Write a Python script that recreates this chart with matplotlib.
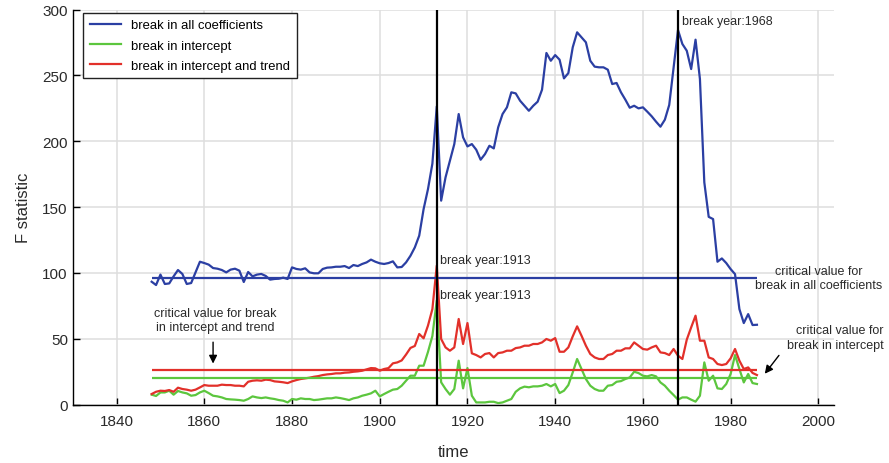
import matplotlib
matplotlib.use("Agg")
import matplotlib.pyplot as plt
import numpy as np

plt.rcParams['font.family'] = ['Liberation Sans', 'DejaVu Sans']

# Sample period
years = list(range(1848, 1987))

# F statistic: break in all coefficients
f_all = [
    93.3, 90.8, 98.7, 91.6, 92.0, 97.4, 102.2, 99.2, 91.6, 92.3,          # 1848-1857
    100.4, 108.5, 107.5, 106.3, 103.7, 103.2, 102.2, 100.4, 102.5, 103.2,  # 1858-1867
    101.7, 93.1, 100.7, 97.4, 98.7, 99.2, 97.7, 94.9, 95.4, 95.6,          # 1868-1877
    96.4, 95.4, 104.2, 103.0, 102.5, 103.5, 100.4, 99.7, 99.7, 103.0,      # 1878-1887
    104.0, 104.2, 104.7, 104.7, 105.2, 103.7, 106.0, 105.2, 106.8, 108.0,  # 1888-1897
    110.1, 108.5, 107.3, 106.8, 107.5, 108.8, 104.2, 104.5, 108.0, 113.0,  # 1898-1907
    119.4, 128.3, 148.5, 163.7, 183.0, 226.5, 154.9, 172.6, 185.3, 197.9,  # 1908-1917
    220.7, 203.0, 196.1, 197.9, 193.6, 186.0, 190.3, 196.6, 194.6, 210.6,  # 1918-1927
    220.7, 225.8, 237.2, 236.4, 230.8, 227.0, 223.2, 227.0, 230.1, 239.2,  # 1928-1937
    267.1, 261.2, 265.5, 262.0, 247.8, 251.8, 271.4, 282.8, 279.0, 275.2,  # 1938-1947
    261.2, 256.7, 256.2, 256.2, 254.4, 243.5, 244.3, 237.2, 231.6, 225.5,  # 1948-1957
    227.0, 225.0, 225.8, 222.5, 219.0, 214.9, 211.1, 216.4, 227.6, 256.2,  # 1958-1967
    284.5, 273.9, 268.8, 254.9, 277.2, 247.3, 168.8, 142.6, 140.9, 108.5,  # 1968-1977
    111.0, 107.5, 102.9, 99.1, 72.5, 61.9, 68.7, 60.4, 60.6,               # 1978-1986
]

# F statistic: break in intercept
f_int = [
    7.5, 6.5, 9.2, 9.2, 10.5, 7.5, 10.3, 9.2, 8.5, 6.7,                    # 1848-1857
    7.2, 9.2, 10.5, 8.7, 6.7, 6.2, 5.4, 4.2, 3.9, 3.7,                     # 1858-1867
    3.4, 2.9, 4.2, 6.2, 5.4, 4.9, 5.4, 4.7, 4.2, 3.4,                      # 1868-1877
    2.9, 1.6, 4.2, 3.7, 4.7, 4.2, 4.2, 3.4, 3.7, 4.2,                      # 1878-1887
    4.7, 4.7, 5.4, 4.9, 4.2, 3.4, 4.7, 5.4, 6.7, 7.5,                      # 1888-1897
    8.5, 10.5, 6.2, 8.0, 9.7, 11.3, 11.8, 14.3, 18.1, 21.9,                # 1898-1907
    21.9, 29.5, 29.5, 40.0, 52.0, 79.0, 16.9, 11.8, 7.5, 11.8,             # 1908-1917
    33.3, 12.3, 27.7, 6.7, 1.6, 1.6, 1.6, 2.1, 2.1, 1.1,                   # 1918-1927
    1.6, 2.9, 4.2, 9.7, 12.3, 13.6, 13.1, 13.8, 13.8, 14.3,                # 1928-1937
    15.6, 13.8, 15.6, 8.7, 10.5, 14.8, 24.4, 34.6, 27.0, 19.4,             # 1938-1947
    14.3, 11.8, 10.5, 10.5, 14.3, 14.8, 17.3, 17.8, 19.4, 20.6,            # 1948-1957
    24.9, 23.9, 21.9, 21.4, 22.4, 21.4, 16.8, 14.3, 10.5, 7.2,             # 1958-1967
    3.7, 5.4, 5.4, 3.7, 2.2, 6.7, 32.0, 18.1, 21.9, 12.3,                  # 1968-1977
    11.8, 15.6, 23.2, 37.6, 27.0, 16.8, 23.2, 16.3, 15.6,                  # 1978-1986
]

# F statistic: break in intercept and trend
f_int_trend = [
    8.0, 9.7, 10.5, 10.3, 11.0, 9.7, 12.8, 11.8, 11.3, 10.5,               # 1848-1857
    11.3, 13.0, 14.8, 14.3, 14.3, 14.3, 15.1, 14.8, 14.8, 14.3,            # 1858-1867
    14.3, 13.8, 17.3, 18.1, 18.4, 18.1, 18.9, 18.6, 17.6, 17.3,            # 1868-1877
    16.9, 16.3, 17.6, 18.6, 19.4, 19.9, 20.4, 21.1, 21.6, 22.4,            # 1878-1887
    22.9, 23.2, 23.7, 23.7, 24.2, 24.4, 24.9, 25.2, 25.7, 26.7,            # 1888-1897
    27.7, 27.5, 25.7, 27.0, 27.7, 31.3, 32.0, 33.5, 38.0, 43.0,            # 1898-1907
    44.5, 53.6, 50.3, 60.0, 72.5, 105.5, 49.8, 43.4, 40.9, 43.4,           # 1908-1917
    65.0, 46.0, 61.9, 38.9, 37.6, 35.8, 38.4, 39.1, 35.8, 39.1,            # 1918-1927
    39.6, 40.9, 40.9, 42.9, 43.4, 44.7, 44.7, 46.0, 46.0, 47.2,            # 1928-1937
    49.8, 48.5, 50.5, 40.1, 40.1, 43.4, 51.8, 59.4, 52.3, 44.7,            # 1938-1947
    38.4, 35.8, 34.6, 34.6, 37.6, 38.4, 40.9, 40.9, 42.7, 42.7,            # 1948-1957
    47.2, 44.7, 42.2, 41.7, 43.4, 44.7, 39.6, 39.1, 37.6, 42.2,            # 1958-1967
    37.1, 34.6, 49.3, 58.6, 67.5, 48.5, 48.5, 35.8, 34.6, 30.8,            # 1968-1977
    30.0, 30.8, 35.1, 42.2, 33.3, 27.0, 28.2, 24.0, 22.4,                  # 1978-1986
]

# Critical values
crit_all = 96.0
crit_int = 20.0
crit_int_trend = 26.5

# Estimated break years
break_all = 1968
break_int = 1913
break_int_trend = 1913

series_labels = ['break in all coefficients', 'break in intercept',
                 'break in intercept and trend']
x_ticks = [1840, 1860, 1880, 1900, 1920, 1940, 1960, 1980, 2000]
y_ticks = [0, 50, 100, 150, 200, 250, 300]

c_blue = '#2b3fa3'
c_green = '#5cc63e'
c_red = '#e2302a'
c_text = '#2a2a2a'

fig = plt.figure(figsize=(8.89, 4.64), dpi=100)
ax = fig.add_axes([0.0818, 0.126, 0.856, 0.851])

ax.grid(True, color='#dedede', linewidth=1.1, zorder=0)
ax.set_axisbelow(True)

lw = 1.6
ax.plot(years, f_all, color=c_blue, lw=lw, label=series_labels[0], zorder=3)
ax.plot(years, f_int, color=c_green, lw=lw, label=series_labels[1], zorder=3)
ax.plot(years, f_int_trend, color=c_red, lw=lw, label=series_labels[2], zorder=3)

ax.hlines(crit_all, years[0], years[-1], color=c_blue, lw=lw, zorder=3)
ax.hlines(crit_int, years[0], years[-1], color=c_green, lw=lw, zorder=3)
ax.hlines(crit_int_trend, years[0], years[-1], color=c_red, lw=lw, zorder=3)

ax.axvline(break_int, color='black', lw=1.6, zorder=4)
ax.axvline(break_all, color='black', lw=1.6, zorder=4)

fs = 9
def peak(series, year):
    return series[years.index(year)]

ax.text(break_all + 0.8, peak(f_all, break_all) + 2, f'break year:{break_all}',
        fontsize=fs, ha='left', va='bottom', color=c_text, zorder=5)
ax.text(break_int_trend + 0.8, peak(f_int_trend, break_int_trend), f'break year:{break_int_trend}',
        fontsize=fs, ha='left', va='bottom', color=c_text, zorder=5)
ax.text(break_int + 0.8, peak(f_int, break_int), f'break year:{break_int}',
        fontsize=fs, ha='left', va='bottom', color=c_text, zorder=5)

ax.text(2000.0, crit_all, 'critical value for\nbreak in all coefficients',
        fontsize=fs, ha='center', va='center', multialignment='center',
        color=c_text, clip_on=False, linespacing=1.25)
ax.text(2014.8, 51.0, 'critical value for\nbreak in intercept',
        fontsize=fs, ha='right', va='center', multialignment='right',
        color=c_text, clip_on=False, linespacing=1.25)
ax.annotate('', xy=(1987.4, 21.7), xytext=(1991.4, 39.0),
            arrowprops=dict(arrowstyle='-|>', color='black', lw=1.0,
                            mutation_scale=12), annotation_clip=False)
ax.text(1862.5, 64.2, 'critical value for break\nin intercept and trend',
        fontsize=fs, ha='center', va='center', multialignment='center',
        color=c_text, linespacing=1.25)
ax.annotate('', xy=(1862.0, 29.0), xytext=(1862.0, 49.5),
            arrowprops=dict(arrowstyle='-|>', color='black', lw=1.0,
                            mutation_scale=12))

ax.set_xlim(1830, 2003.5)
ax.set_ylim(0, 300)
ax.set_xticks(x_ticks)
ax.set_yticks(y_ticks)
ax.tick_params(direction='in', length=5, width=1, labelsize=11,
               colors='black', labelcolor=c_text)
ax.tick_params(axis='x', pad=7)
for side in ['top', 'right']:
    ax.spines[side].set_visible(False)
for side in ['left', 'bottom']:
    ax.spines[side].set_linewidth(1.0)

ax.set_xlabel('time', fontsize=12, color=c_text, labelpad=11)
ax.set_ylabel('F statistic', fontsize=12, color=c_text, labelpad=8)

leg = ax.legend(loc='upper left', bbox_to_anchor=(0.0135, 0.992),
                fontsize=9.4, frameon=True, fancybox=False,
                edgecolor='#222222', framealpha=1.0, handlelength=2.4,
                borderaxespad=0.0, labelspacing=0.62, borderpad=0.5)
leg.get_frame().set_linewidth(1.0)

fig.savefig('out.png', dpi=100)
